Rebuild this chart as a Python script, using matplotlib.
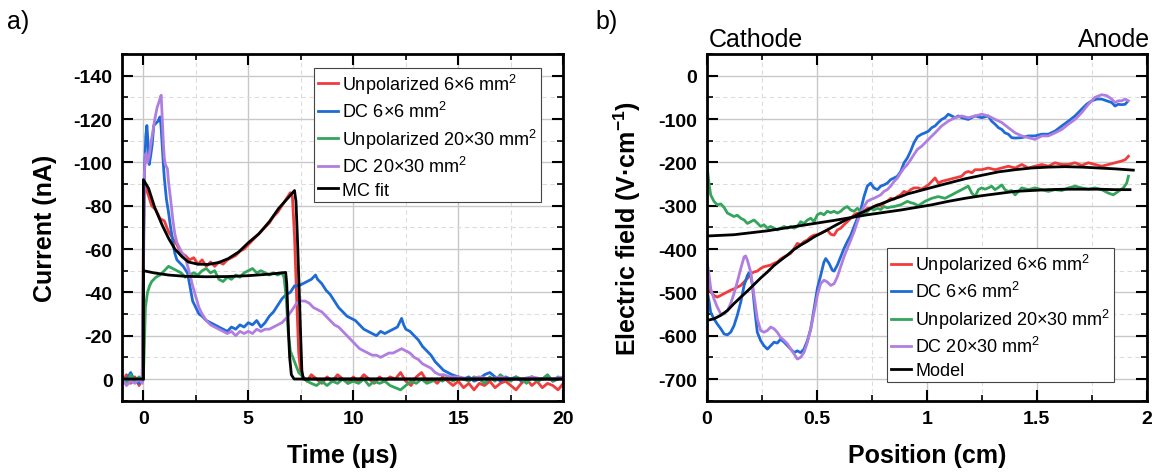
import matplotlib
matplotlib.use("Agg")
import matplotlib.pyplot as plt
from matplotlib.ticker import MultipleLocator

# === FONTS / STYLE ===
plt.rcParams["font.family"] = ["Liberation Sans", "DejaVu Sans"]
plt.rcParams["mathtext.fontset"] = "custom"
plt.rcParams["mathtext.rm"] = "Liberation Sans"
plt.rcParams["mathtext.it"] = "Liberation Sans:italic"
plt.rcParams["mathtext.bf"] = "Liberation Sans:bold"
plt.rcParams["axes.unicode_minus"] = False

RED = "#f03c3c"
BLUE = "#1f6bd6"
GREEN = "#33a55c"
PURPLE = "#b07ee0"
BLACK = "#000000"

LABELS_A = ["Unpolarized 6×6 mm$^2$", "DC 6×6 mm$^2$", "Unpolarized 20×30 mm$^2$",
            "DC 20×30 mm$^2$", "MC fit"]
LABELS_B = LABELS_A[:4] + ["Model"]

# ------------------------------
# a) current transients (time in us, current in nA)
# ------------------------------
t_tail = [7.8, 8.0, 8.25, 8.5, 8.75, 9.0, 9.25, 9.5, 9.75, 10.0,
          10.25, 10.5, 10.75, 11.0, 11.25, 11.5, 11.75, 12.0, 12.25, 12.5,
          12.75, 13.0, 13.25, 13.5, 13.75, 14.0, 14.25, 14.5, 14.75, 15.0,
          15.25, 15.5, 15.75, 16.0, 16.25, 16.5, 16.75, 17.0, 17.25, 17.5,
          17.75, 18.0, 18.25, 18.5, 18.75, 19.0, 19.25, 19.5, 19.75, 20.0]

t_unpol6 = [-1.0, -0.8, -0.6, -0.4, -0.2, -0.05,
            0.0, 0.05, 0.2, 0.4, 0.6, 0.8, 1.0, 1.2, 1.4, 1.6,
            1.8, 2.0, 2.2, 2.4, 2.6, 2.8, 3.0, 3.2, 3.4, 3.6,
            3.8, 4.0, 4.2, 4.4, 4.6, 4.8, 5.0, 5.2, 5.4, 5.6,
            5.8, 6.0, 6.2, 6.4, 6.6, 6.8, 7.0, 7.1, 7.2, 7.3,
            7.4, 7.5, 7.6] + t_tail
i_unpol6 = [1, -2, 2, -1, 3, 0,
            -60, -90, -86, -80, -78, -74, -73, -68, -65, -62,
            -58, -57, -55, -56, -53, -55, -52, -54, -52, -54,
            -53, -55, -56, -57, -59, -60, -62, -64, -66, -68,
            -70, -72, -75, -77, -80, -83, -86, -84, -66, -38,
            -12, -3, -1,
            1, -2, 0, 2, -1, 1, -2, 0, 2, -1,
            1, -2, 0, 2, -1, 1, -1, 0, -3, 1,
            3, -1, -3, 1, 0, 2, -1, 1, 3, 1,
            4, 2, 5, 2, 3, 1, 4, 2, 1, 3,
            5, 2, 0, 3, 1, 4, 2, 3, 5, 2]

t_unpol20 = [-1.0, -0.8, -0.6, -0.4, -0.2, -0.05,
             0.0, 0.05, 0.1, 0.2, 0.3, 0.4,
             0.6, 0.8, 1.0, 1.2, 1.4, 1.6, 1.8, 2.0,
             2.2, 2.4, 2.6, 2.8, 3.0, 3.2, 3.4, 3.6, 3.8, 4.0,
             4.2, 4.4, 4.6, 4.8, 5.0, 5.2, 5.4, 5.6, 5.8, 6.0,
             6.2, 6.4, 6.6, 6.7, 6.8, 6.9, 7.0, 7.2, 7.4, 7.6] + t_tail
i_unpol20 = [-1, 2, -2, 1, -1, 1,
             0, -15, -33, -40, -43, -45,
             -47, -48, -50, -52, -51, -50, -49, -47,
             -48, -49, -48, -50, -51, -49, -50, -46, -45, -47,
             -46, -48, -47, -49, -50, -51, -49, -50, -49, -48,
             -49, -48, -49, -47, -38, -22, -13, -8, -3, -1,
             1, 2, 3, 1, 3, 1, 2, 0, 2, 1,
             2, 0, 3, 1, 2, 1, 3, 4, 5, 3,
             1, 2, 0, 2, 1, 0, 1, -1, 1, -1,
             0, 1, -1, 0, 2, -1, 1, -2, 0, 1,
             -1, 0, 2, -1, 1, 0, -2, 1, -1, 0]

t_dc6 = [-1.0, -0.8, -0.6, -0.4, -0.2, -0.05,
         0.0, 0.05, 0.12, 0.17, 0.22, 0.28, 0.35, 0.42, 0.5, 0.6,
         0.7, 0.8, 0.85, 0.9, 0.95, 1.0, 1.05, 1.1, 1.2, 1.3,
         1.4, 1.5, 1.6, 1.7, 1.9, 2.1, 2.2, 2.35, 2.5, 2.65,
         2.8, 3.0, 3.2, 3.4, 3.6, 3.8, 4.0, 4.2, 4.4, 4.6,
         4.8, 5.0, 5.2, 5.4, 5.6, 5.8, 6.0, 6.2, 6.4, 6.6,
         6.8, 7.0, 7.2, 7.4, 7.6, 7.8, 8.0, 8.2, 8.3, 8.5,
         8.7, 8.9, 9.1, 9.3, 9.5, 9.7, 9.9, 10.1, 10.3, 10.5,
         10.7, 10.9, 11.1, 11.3, 11.5, 11.7, 11.9, 12.1, 12.2, 12.3,
         12.4, 12.5, 12.7, 12.9, 13.1, 13.3, 13.5, 13.7, 13.9, 14.1,
         14.3, 14.5, 14.7, 15.0, 15.25, 15.5, 15.75, 16.0, 16.25, 16.5,
         16.75, 17.0, 17.25, 17.5, 17.75, 18.0, 18.25, 18.5, 18.75, 19.0,
         19.25, 19.5, 19.75, 20.0]
i_dc6 = [2, 0, -3, 1, 2, 0,
         -40, -95, -112, -117, -110, -99, -103, -108, -117, -118,
         -119, -121, -116, -108, -100, -93, -88, -83, -77, -70,
         -64, -58, -55, -54, -52, -49, -44, -36, -33, -30,
         -29, -27, -26, -25, -24, -23, -22, -24, -23, -25,
         -24, -26, -25, -27, -24, -26, -29, -31, -34, -37,
         -39, -40, -43, -43, -44, -45, -46, -48, -46, -44,
         -41, -39, -36, -33, -31, -29, -28, -27, -25, -23,
         -22, -21, -20, -22, -21, -22, -23, -24, -26, -28,
         -25, -23, -22, -20, -18, -15, -13, -11, -8, -6,
         -4, -3, -2, -1, 0, -1, 1, 0, -2, -3,
         -1, 1, -1, 0, -1, 1, 0, -1, 1, 0,
         -1, 1, 0, -1]

t_dc20 = [-1.0, -0.8, -0.6, -0.4, -0.2, -0.05,
          0.0, 0.05, 0.12, 0.2, 0.28, 0.35, 0.45, 0.55, 0.65, 0.75,
          0.85, 0.9, 0.95, 1.0, 1.05, 1.1, 1.15, 1.2, 1.3, 1.4,
          1.5, 1.6, 1.8, 2.0, 2.2, 2.35, 2.5, 2.65, 2.8, 3.0,
          3.2, 3.4, 3.6, 3.8, 4.0, 4.2, 4.4, 4.6, 4.8, 5.0,
          5.2, 5.4, 5.6, 5.8, 6.0, 6.2, 6.4, 6.6, 6.8, 6.95,
          7.1, 7.3, 7.5, 7.7, 7.9, 8.1, 8.3, 8.5, 8.7, 8.9,
          9.1, 9.3, 9.5, 9.7, 9.9, 10.1, 10.3, 10.5, 10.7, 10.9,
          11.1, 11.3, 11.5, 11.7, 11.9, 12.1, 12.3, 12.5, 12.7, 12.9,
          13.1, 13.3, 13.5, 13.7, 13.9, 14.1, 14.3, 14.6, 15.0, 15.5,
          16.0, 16.5, 17.0, 17.5, 18.0, 18.5, 19.0, 19.5, 20.0]
i_dc20 = [0, 3, 1, 2, 0, 2,
          -50, -95, -104, -100, -103, -108, -114, -120, -125, -128,
          -131, -121, -110, -102, -99, -98, -97, -91, -83, -74,
          -67, -63, -59, -56, -49, -43, -38, -33, -30, -27,
          -25, -24, -23, -22, -21, -22, -20, -22, -21, -22,
          -21, -23, -22, -23, -23, -24, -25, -26, -28, -30,
          -32, -35, -36, -36, -35, -33, -32, -31, -29, -27,
          -25, -24, -22, -20, -18, -16, -14, -13, -12, -11,
          -11, -10, -11, -12, -12, -13, -14, -13, -12, -10,
          -9, -7, -6, -5, -3, -2, -2, -1, -1, 0,
          -1, 0, -1, 0, 0, -1, 0, 0, -1]

t_fit_fast = [-1.0, 0.0, 0.005, 0.25, 0.55, 0.9, 1.2, 1.5, 1.85, 2.15,
              2.6, 3.1, 3.6, 4.05, 4.55, 5.0, 5.5, 6.0, 6.45, 6.95,
              7.2, 7.27, 7.34, 7.42, 7.5, 7.55, 7.62, 20.0]
i_fit_fast = [0, 0, -92, -88, -79, -71, -65, -60, -56.4, -54,
              -53, -52.9, -53.8, -55.6, -58.7, -62.9, -67, -72.6, -78.8, -84.2,
              -87, -82, -65, -42, -18, -4, 0, 0]

t_fit_slow = [0.0, 0.005, 0.5, 1.2, 2.0, 3.0, 4.0, 5.0, 6.0, 6.5,
              6.78, 6.83, 6.87, 6.92, 6.97, 7.05, 7.18, 20.0]
i_fit_slow = [0, -50, -49, -48, -47.4, -47.2, -47.3, -47.7, -48.4, -48.9,
              -49.2, -44, -34, -20, -10, -2, 0, 0]

# ------------------------------
# b) electric field profiles (position in cm, field in V/cm)
# ------------------------------
x_unpol6 = [0.0, 0.011, 0.018, 0.033, 0.048, 0.064, 0.079, 0.094, 0.109, 0.124,
            0.139, 0.155, 0.17, 0.185, 0.2, 0.215, 0.23, 0.245, 0.26, 0.276,
            0.291, 0.306, 0.321, 0.336, 0.352, 0.367, 0.382, 0.397, 0.412, 0.427,
            0.442, 0.458, 0.473, 0.488, 0.503, 0.518, 0.533, 0.548, 0.564, 0.579,
            0.594, 0.609, 0.624, 0.639, 0.655, 0.67, 0.685, 0.7, 0.715, 0.73,
            0.745, 0.76, 0.776, 0.791, 0.806, 0.821, 0.836, 0.852, 0.867, 0.882,
            0.897, 0.912, 0.927, 0.942, 0.962, 0.977, 1.008, 1.023, 1.038, 1.053,
            1.068, 1.098, 1.129, 1.159, 1.174, 1.189, 1.205, 1.22, 1.25, 1.28,
            1.311, 1.341, 1.371, 1.402, 1.432, 1.462, 1.492, 1.523, 1.553, 1.583,
            1.614, 1.644, 1.674, 1.705, 1.735, 1.765, 1.795, 1.826, 1.856, 1.886,
            1.902, 1.917]
e_unpol6 = [-430, -476, -499, -507, -511, -507, -503, -499, -495, -492,
            -488, -484, -476, -468, -457, -453, -451, -445, -441, -439,
            -437, -433, -430, -423, -418, -414, -410, -399, -387, -390,
            -383, -379, -372, -368, -367, -364, -360, -356, -366, -368,
            -356, -352, -344, -337, -329, -321, -317, -321, -313, -306,
            -306, -302, -298, -301, -294, -290, -283, -285, -279, -275,
            -267, -270, -263, -259, -259, -262, -252, -244, -236, -248,
            -244, -240, -236, -232, -224, -221, -224, -217, -217, -213,
            -217, -213, -209, -213, -205, -213, -209, -205, -209, -201,
            -205, -205, -201, -207, -201, -205, -209, -205, -201, -197,
            -194, -186]

x_unpol20 = [0.0, 0.003, 0.011, 0.018, 0.033, 0.048, 0.064, 0.079, 0.094, 0.109,
             0.124, 0.139, 0.155, 0.17, 0.185, 0.2, 0.215, 0.23, 0.245, 0.26,
             0.276, 0.291, 0.306, 0.321, 0.336, 0.352, 0.367, 0.382, 0.397, 0.412,
             0.427, 0.442, 0.458, 0.473, 0.488, 0.503, 0.518, 0.533, 0.548, 0.564,
             0.579, 0.594, 0.609, 0.624, 0.639, 0.655, 0.67, 0.685, 0.7, 0.715,
             0.73, 0.745, 0.76, 0.776, 0.791, 0.806, 0.821, 0.836, 0.852, 0.867,
             0.882, 0.897, 0.912, 0.927, 0.942, 0.962, 0.992, 1.023, 1.053, 1.083,
             1.114, 1.144, 1.174, 1.189, 1.205, 1.22, 1.235, 1.25, 1.265, 1.28,
             1.295, 1.31, 1.326, 1.341, 1.356, 1.371, 1.386, 1.402, 1.417, 1.432,
             1.462, 1.492, 1.523, 1.553, 1.583, 1.614, 1.644, 1.674, 1.705, 1.735,
             1.765, 1.795, 1.826, 1.848, 1.871, 1.894, 1.909, 1.917]
e_unpol20 = [-200, -215, -251, -275, -290, -298, -296, -304, -317, -321,
             -325, -322, -329, -333, -341, -337, -333, -340, -348, -344,
             -352, -348, -352, -356, -352, -348, -352, -348, -352, -348,
             -337, -341, -333, -329, -337, -321, -317, -321, -313, -316,
             -313, -317, -313, -306, -302, -310, -313, -306, -313, -321,
             -314, -306, -310, -306, -309, -302, -305, -303, -302, -300,
             -298, -294, -290, -293, -295, -300, -290, -283, -279, -283,
             -275, -267, -259, -255, -271, -279, -263, -259, -262, -259,
             -255, -263, -258, -252, -263, -267, -265, -275, -267, -259,
             -263, -259, -263, -267, -263, -265, -259, -255, -259, -262,
             -259, -263, -271, -275, -267, -259, -248, -232]

x_dc6 = [0.0, 0.011, 0.018, 0.033, 0.048, 0.064, 0.079, 0.094, 0.109, 0.124,
         0.139, 0.155, 0.17, 0.185, 0.192, 0.2, 0.208, 0.215, 0.223, 0.23,
         0.245, 0.26, 0.276, 0.291, 0.306, 0.321, 0.336, 0.352, 0.367, 0.382,
         0.397, 0.412, 0.427, 0.442, 0.458, 0.473, 0.488, 0.503, 0.518, 0.533,
         0.541, 0.556, 0.571, 0.579, 0.594, 0.609, 0.624, 0.639, 0.655, 0.67,
         0.685, 0.7, 0.715, 0.73, 0.745, 0.76, 0.776, 0.791, 0.806, 0.821,
         0.836, 0.852, 0.867, 0.882, 0.897, 0.912, 0.927, 0.942, 0.958, 0.977,
         0.992, 1.008, 1.023, 1.038, 1.053, 1.068, 1.083, 1.098, 1.114, 1.129,
         1.144, 1.159, 1.189, 1.22, 1.25, 1.28, 1.295, 1.311, 1.326, 1.341,
         1.356, 1.371, 1.386, 1.402, 1.432, 1.462, 1.492, 1.523, 1.553, 1.583,
         1.614, 1.644, 1.674, 1.705, 1.727, 1.75, 1.773, 1.795, 1.818, 1.841,
         1.856, 1.871, 1.886, 1.902, 1.909]
e_dc6 = [-491, -522, -546, -561, -573, -584, -596, -598, -592, -577,
         -553, -522, -484, -461, -455, -461, -484, -522, -561, -592,
         -611, -623, -631, -623, -615, -617, -608, -615, -623, -631,
         -639, -635, -639, -631, -611, -584, -538, -491, -461, -430,
         -422, -433, -449, -451, -437, -418, -399, -383, -368, -348,
         -329, -310, -279, -255, -248, -259, -263, -255, -252, -248,
         -240, -236, -232, -221, -201, -190, -174, -155, -141, -135,
         -132, -128, -120, -116, -108, -101, -97, -89, -93, -97,
         -93, -97, -101, -93, -97, -93, -105, -112, -120, -124,
         -132, -135, -143, -144, -143, -139, -139, -135, -135, -128,
         -116, -105, -93, -77, -66, -58, -54, -54, -58, -62,
         -70, -66, -67, -66, -62]

x_dc20 = [0.0, 0.011, 0.018, 0.033, 0.048, 0.064, 0.079, 0.094, 0.109, 0.124,
          0.139, 0.155, 0.17, 0.177, 0.185, 0.2, 0.215, 0.23, 0.245, 0.26,
          0.276, 0.291, 0.306, 0.321, 0.336, 0.352, 0.367, 0.382, 0.397, 0.412,
          0.427, 0.442, 0.458, 0.473, 0.488, 0.503, 0.518, 0.533, 0.548, 0.564,
          0.579, 0.594, 0.609, 0.624, 0.639, 0.655, 0.67, 0.685, 0.7, 0.715,
          0.73, 0.745, 0.76, 0.776, 0.791, 0.806, 0.821, 0.836, 0.852, 0.867,
          0.882, 0.897, 0.912, 0.927, 0.942, 0.958, 0.977, 1.008, 1.038, 1.068,
          1.098, 1.129, 1.159, 1.189, 1.22, 1.25, 1.28, 1.311, 1.341, 1.371,
          1.402, 1.432, 1.462, 1.492, 1.523, 1.553, 1.583, 1.614, 1.644, 1.674,
          1.705, 1.735, 1.765, 1.795, 1.818, 1.841, 1.856, 1.871, 1.886, 1.902,
          1.917]
e_dc20 = [-422, -461, -491, -515, -534, -550, -550, -542, -526, -503,
          -476, -445, -418, -416, -426, -453, -507, -561, -588, -592,
          -588, -580, -584, -592, -604, -611, -619, -631, -642, -654,
          -650, -639, -615, -584, -546, -507, -480, -472, -476, -484,
          -480, -464, -441, -418, -399, -379, -360, -337, -317, -302,
          -290, -286, -283, -279, -275, -267, -263, -255, -244, -236,
          -224, -213, -205, -194, -182, -170, -163, -147, -132, -116,
          -105, -97, -93, -97, -93, -89, -93, -101, -108, -120,
          -132, -139, -143, -147, -139, -139, -132, -124, -112, -101,
          -85, -66, -50, -44, -46, -54, -62, -58, -58, -54,
          -58]

x_model_6 = [0.0, 0.033, 0.064, 0.094, 0.124, 0.155, 0.185, 0.215, 0.245, 0.276,
             0.306, 0.336, 0.367, 0.397, 0.427, 0.458, 0.488, 0.518, 0.548, 0.579,
             0.609, 0.639, 0.67, 0.7, 0.73, 0.76, 0.791, 0.821, 0.852, 0.882,
             0.912, 0.942, 1.023, 1.098, 1.174, 1.25, 1.326, 1.402, 1.477, 1.553,
             1.629, 1.705, 1.78, 1.856, 1.939]
e_model_6 = [-565, -561, -553, -542, -526, -511, -497, -482, -467, -453,
             -438, -426, -414, -401, -391, -382, -372, -364, -356, -347,
             -339, -331, -325, -317, -310, -302, -296, -290, -284, -279,
             -273, -269, -258, -248, -238, -230, -222, -217, -213, -211,
             -210, -211, -213, -215, -218]

x_model_20 = [0.0, 0.124, 0.276, 0.427, 0.579, 0.73, 0.882, 1.023, 1.098, 1.174,
              1.25, 1.326, 1.402, 1.477, 1.553, 1.629, 1.705, 1.78, 1.856, 1.924]
e_model_20 = [-370, -367, -358, -346, -334, -321, -310, -298, -290, -283,
              -277, -272, -267, -265, -263, -262, -262, -262, -263, -263]

# ------------------------------
# Figure
# ------------------------------
W, H = 1155, 477
fig = plt.figure(figsize=(W / 100, H / 100), dpi=100)
ax1 = fig.add_axes([122.3 / W, 1 - 401.7 / H, 441 / W, 346.7 / H])
ax2 = fig.add_axes([706.7 / W, 1 - 401.7 / H, 440 / W, 346.7 / H])


def style_axes(ax, xticks, xlabels, yticks, ylabels, xminor, yminor):
    ax.set_axisbelow(True)
    ax.set_xticks(xticks)
    ax.set_xticklabels(xlabels, fontweight="bold", fontsize=14)
    ax.set_yticks(yticks)
    ax.set_yticklabels(ylabels, fontweight="bold", fontsize=14)
    ax.xaxis.set_minor_locator(MultipleLocator(xminor))
    ax.yaxis.set_minor_locator(MultipleLocator(yminor))
    ax.tick_params(which="major", direction="in", length=8, width=1.5,
                   top=True, right=True, pad=7)
    ax.tick_params(which="minor", direction="in", length=4.5, width=1.2,
                   top=True, right=True)
    ax.grid(which="major", color="#c8c8c8", lw=1.0)
    ax.grid(which="minor", color="#dcdcdc", lw=0.8, ls=(0, (4, 3)))
    for sp in ax.spines.values():
        sp.set_linewidth(2)


def add_legend(ax, anchor):
    leg = ax.legend(loc="upper left", bbox_to_anchor=anchor, fontsize=13,
                    frameon=True, fancybox=False, edgecolor="#444444",
                    framealpha=1, handlelength=1.1, handletextpad=0.25,
                    borderpad=0.2, labelspacing=0.3, borderaxespad=0)
    leg.get_frame().set_linewidth(0.8)


# --- panel a ---
lw = 2.0
ax1.plot(t_unpol6, i_unpol6, color=RED, lw=lw, label=LABELS_A[0])
ax1.plot(t_dc6, i_dc6, color=BLUE, lw=lw, label=LABELS_A[1])
ax1.plot(t_unpol20, i_unpol20, color=GREEN, lw=lw, label=LABELS_A[2])
ax1.plot(t_dc20, i_dc20, color=PURPLE, lw=lw, label=LABELS_A[3])
ax1.plot(t_fit_fast, i_fit_fast, color=BLACK, lw=2.0, label=LABELS_A[4])
ax1.plot(t_fit_slow, i_fit_slow, color=BLACK, lw=2.0)

time_ticks = [0, 5, 10, 15, 20]
cur_ticks = [-140, -120, -100, -80, -60, -40, -20, 0]
style_axes(ax1, time_ticks, [str(v) for v in time_ticks],
           cur_ticks, [str(v) for v in cur_ticks], 2.5, 10)
ax1.set_xlim(-1, 20)
ax1.set_ylim(10, -150)
ax1.set_xlabel("Time (μs)", fontsize=18, fontweight="bold", labelpad=11)
ax1.set_ylabel("Current (nA)", fontsize=18, fontweight="bold", labelpad=12)
add_legend(ax1, (0.435, 0.96))

# --- panel b ---
ax2.plot(x_unpol6, e_unpol6, color=RED, lw=lw, label=LABELS_B[0])
ax2.plot(x_dc6, e_dc6, color=BLUE, lw=lw, label=LABELS_B[1])
ax2.plot(x_unpol20, e_unpol20, color=GREEN, lw=lw, label=LABELS_B[2])
ax2.plot(x_dc20, e_dc20, color=PURPLE, lw=lw, label=LABELS_B[3])
ax2.plot(x_model_6, e_model_6, color=BLACK, lw=2.0, label=LABELS_B[4])
ax2.plot(x_model_20, e_model_20, color=BLACK, lw=2.0)

pos_ticks = [0, 0.5, 1, 1.5, 2]
field_ticks = [0, -100, -200, -300, -400, -500, -600, -700]
style_axes(ax2, pos_ticks, ["0", "0.5", "1", "1.5", "2"],
           field_ticks, [str(v) for v in field_ticks], 0.25, 50)
ax2.set_xlim(0, 2)
ax2.set_ylim(-750, 50)
ax2.set_xlabel("Position (cm)", fontsize=18, fontweight="bold", labelpad=11)
ax2.set_ylabel("Electric field (V·cm$^{\\mathbf{-1}}$)", fontsize=18,
               fontweight="bold", labelpad=11)
add_legend(ax2, (0.41, 0.44))

ax2.text(0.005, 1.01, "Cathode", transform=ax2.transAxes, fontsize=18,
         ha="left", va="bottom")
ax2.text(1.008, 1.01, "Anode", transform=ax2.transAxes, fontsize=18,
         ha="right", va="bottom")

fig.text(7 / W, 1 - 22 / H, "a)", fontsize=18, ha="left", va="center")
fig.text(595 / W, 1 - 22 / H, "b)", fontsize=18, ha="left", va="center")

fig.savefig("out.png", dpi=100)
